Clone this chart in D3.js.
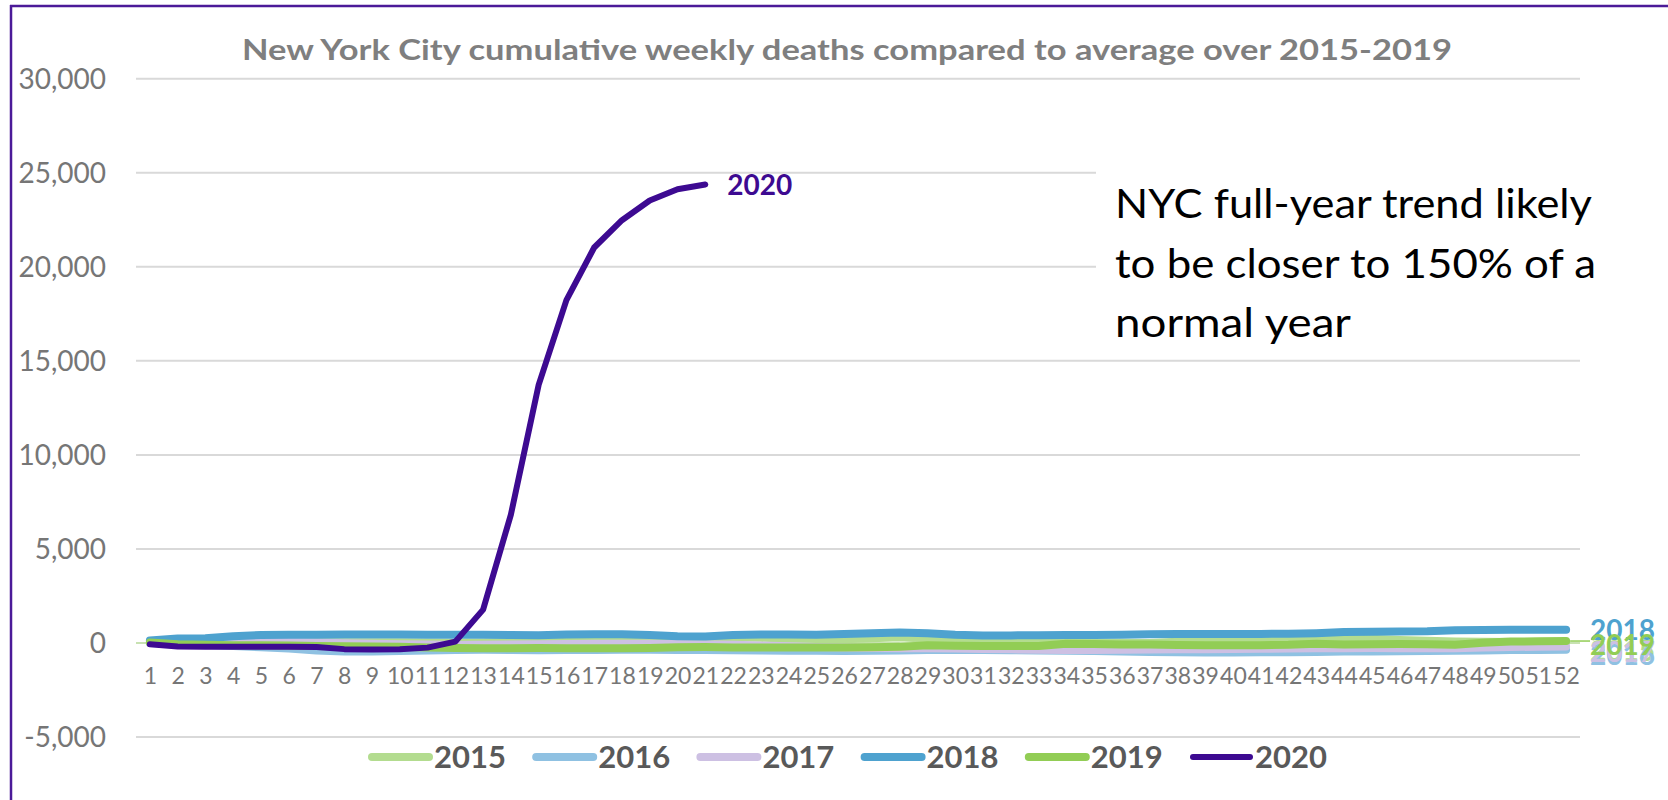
<!DOCTYPE html>
<html>
<head>
<meta charset="utf-8">
<script src="https://cdn.jsdelivr.net/npm/d3@7"></script>
<style>
  body { margin: 0; background: #ffffff; }
  text { font-family: Lato, "Open Sans", sans-serif; }
</style>
</head>
<body>
<script>
// weekly cumulative deaths, difference from the 2015-2019 average
var weeks = d3.range(1, 53);
var years = ["2015", "2016", "2017", "2018", "2019", "2020"];
var yTicks = [-5000, 0, 5000, 10000, 15000, 20000, 25000, 30000];

var y2015 = [20, 40, 30, 10, 0, -10, 10, 20, 20, 10, 0, -10, 0, 10, 20, 30, 40, 60, 120, 200,
             260, 280, 250, 220, 190, 180, 230, 280, 200, 80, 60, 60, 40, 0, -20, -10, -20, 40, 60, 60,
             80, 110, 170, 220, 200, 140, 100, 60, 40, 30, 20, 20];
var y2016 = [-20, -80, -120, -180, -250, -320, -420, -470, -480, -450, -420, -390, -380, -400, -410, -400, -390, -380, -380, -390,
             -400, -410, -420, -430, -440, -450, -440, -420, -400, -390, -400, -410, -420, -430, -450, -470, -500, -520, -530, -530,
             -520, -510, -500, -480, -470, -460, -450, -440, -420, -400, -390, -380];
var y2017 = [0, 50, 60, 60, 50, 30, 0, -40, -60, -90, -110, -130, -120, -100, -90, -80, -70, -60, -70, -80,
             -90, -120, -160, -200, -240, -270, -290, -300, -310, -320, -340, -360, -380, -390, -390, -380, -370, -360, -350, -340,
             -330, -320, -310, -300, -290, -300, -310, -300, -270, -240, -220, -210];
var y2018 = [110, 210, 230, 340, 400, 410, 420, 430, 430, 430, 420, 420, 410, 400, 390, 430, 440, 440, 400, 340,
             320, 400, 430, 430, 410, 450, 490, 530, 490, 410, 380, 380, 390, 400, 400, 420, 440, 450, 460, 460,
             460, 470, 500, 560, 580, 590, 600, 650, 670, 680, 680, 680];
var y2019 = [0, -90, -120, -140, -150, -160, -180, -200, -210, -220, -260, -290, -300, -300, -290, -300, -310, -310, -290, -250,
             -240, -260, -270, -270, -270, -260, -250, -230, -140, -170, -190, -190, -180, -60, -80, -100, -110, -130, -140, -140,
             -140, -120, -60, -100, -90, -80, -90, -120, -10, 50, 70, 80];
var y2020 = [-90, -210, -230, -230, -230, -230, -240, -350, -370, -360, -270, 50, 1750, 6800, 13700, 18200, 21000, 22450, 23500, 24100,
             24350];

var seriesValues = [y2015, y2016, y2017, y2018, y2019, y2020];
var colors = ["#b3dc8f", "#8fc1e2", "#cdc0e3", "#4ea2cf", "#92cd55", "#3d0a91"];

var title = "New York City cumulative weekly deaths compared to average over 2015-2019";
var note = ["NYC full-year trend likely", "to be closer to 150% of a", "normal year"];

var width = 1668;
var height = 800;
var plotLeft = 136, plotRight = 1580, plotTop = 78.2, plotBottom = 736.6;

var svg = d3.select("body")
            .append("svg")
            .attr("width", width)
            .attr("height", height);

svg.append("rect")
   .attr("width", width)
   .attr("height", height)
   .attr("fill", "#ffffff");

var xScale = d3.scalePoint()
               .domain(weeks)
               .range([plotLeft, plotRight])
               .padding(0.5);

var yScale = d3.scaleLinear()
               .domain([-5000, 30000])
               .range([plotBottom, plotTop]);

var fmt = d3.formatLocale({decimal: ".", thousands: ",", grouping: [3], currency: ["", ""], minus: "-"}).format(",");

// y axis with gridlines
var yAxis = d3.axisLeft(yScale)
              .tickValues(yTicks)
              .tickFormat(fmt)
              .tickSize(-(plotRight - plotLeft))
              .tickPadding(30);

var gy = svg.append("g")
            .attr("transform", "translate(" + plotLeft + ",0)")
            .call(yAxis);
gy.select(".domain").remove();
gy.selectAll("line")
  .attr("stroke", function(d){ return d == 0 ? "#c8e2b2" : "#d9d9d9"; })
  .attr("stroke-width", 2);
gy.selectAll("text")
  .attr("fill", "#767676")
  .attr("font-size", 28)
  .attr("dy", "0.36em");

// x axis labels under the zero line
var xAxis = d3.axisBottom(xScale)
              .tickSize(0)
              .tickPadding(0);

var gx = svg.append("g")
            .attr("transform", "translate(0,684)")
            .call(xAxis);
gx.select(".domain").remove();
gx.selectAll("text")
  .attr("dy", 0)
  .attr("fill", "#767676")
  .attr("font-size", 23);

// white box behind the note
svg.append("rect")
   .attr("x", 1096).attr("y", 150)
   .attr("width", 580).attr("height", 200)
   .attr("fill", "#ffffff");

var line = d3.line()
             .x(function(d, i){ return xScale(weeks[i]); })
             .y(function(d){ return yScale(d); });

seriesValues.forEach(function(vals, k){
  svg.append("path")
     .datum(vals)
     .attr("d", line)
     .attr("fill", "none")
     .attr("stroke", colors[k])
     .attr("stroke-width", k == 5 ? 6 : 8)
     .attr("stroke-linecap", "round")
     .attr("stroke-linejoin", "round");
});

// leader for the 2019 label
svg.append("line")
   .attr("x1", xScale(52) + 4).attr("x2", 1590)
   .attr("y1", yScale(y2019[51])).attr("y2", yScale(y2019[51]))
   .attr("stroke", colors[4])
   .attr("stroke-width", 1.5);

// end labels
var labelShift = [9, 5, 5, 0, 4];
seriesValues.forEach(function(vals, k){
  var last = vals.length - 1;
  svg.append("text")
     .attr("x", k == 5 ? xScale(weeks[last]) + 22 : 1590)
     .attr("y", yScale(vals[last]) + (k == 5 ? 0 : labelShift[k]))
     .attr("dy", "0.36em")
     .attr("fill", colors[k])
     .attr("font-size", 28)
     .attr("font-weight", "bold")
     .text(years[k]);
});

// title
svg.append("text")
   .attr("x", 847)
   .attr("y", 60)
   .attr("text-anchor", "middle")
   .attr("fill", "#7f7f7f")
   .attr("font-size", 28)
   .attr("font-weight", "bold")
   .attr("textLength", 1210)
   .attr("lengthAdjust", "spacingAndGlyphs")
   .text(title);

// note
var noteWidths = [477, 481, 236];
svg.selectAll(".note")
   .data(note)
   .enter()
   .append("text")
   .attr("class", "note")
   .attr("x", 1115)
   .attr("y", function(d, i){ return 218 + i * 59.5; })
   .attr("fill", "#000000")
   .attr("font-size", 41)
   .attr("textLength", function(d, i){ return noteWidths[i]; })
   .attr("lengthAdjust", "spacingAndGlyphs")
   .text(function(d){ return d; });

// legend
var legend = svg.selectAll(".legend")
                .data(years)
                .enter()
                .append("g")
                .attr("class", "legend")
                .attr("transform", function(d, i){ return "translate(" + (372 + i * 164.2) + ",757)"; });

legend.append("line")
      .attr("x1", 0).attr("x2", 57)
      .attr("stroke", function(d, i){ return colors[i]; })
      .attr("stroke-width", function(d, i){ return i == 5 ? 6 : 8; })
      .attr("stroke-linecap", "round");

legend.append("text")
      .attr("x", 62)
      .attr("dy", "0.36em")
      .attr("fill", "#595959")
      .attr("font-size", 31)
      .attr("font-weight", "bold")
      .text(function(d){ return d; });

// frame
svg.append("line")
   .attr("x1", 10).attr("x2", width)
   .attr("y1", 6).attr("y2", 6)
   .attr("stroke", "#4b1a98")
   .attr("stroke-width", 2.5);
svg.append("line")
   .attr("x1", 11).attr("x2", 11)
   .attr("y1", 5).attr("y2", height)
   .attr("stroke", "#4b1a98")
   .attr("stroke-width", 2.5);
</script>
</body>
</html>
